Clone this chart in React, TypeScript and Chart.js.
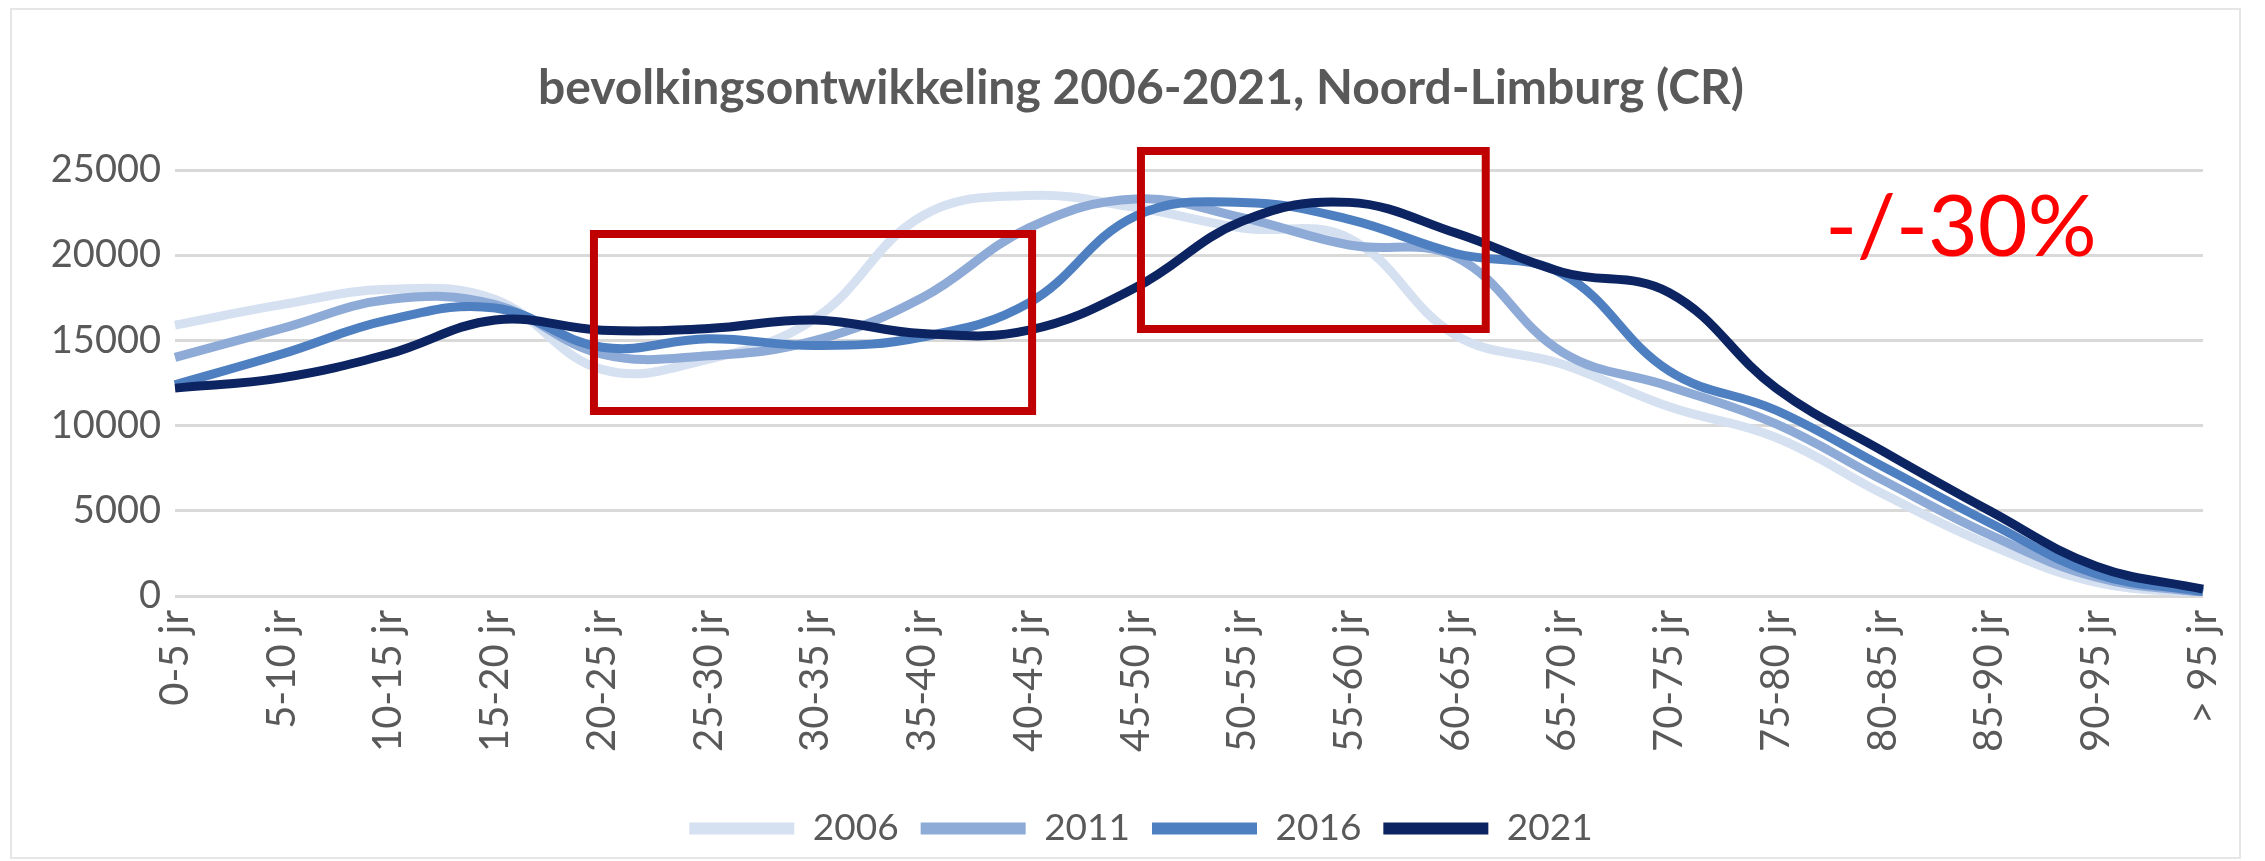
import React, { useEffect, useRef } from "react";
import { Chart, registerables } from "chart.js";

Chart.register(...registerables);

// ---- data ----
const categories = [
  "0-5 jr", "5-10 jr", "10-15 jr", "15-20 jr", "20-25 jr", "25-30 jr", "30-35 jr",
  "35-40 jr", "40-45 jr", "45-50 jr", "50-55 jr", "55-60 jr", "60-65 jr", "65-70 jr",
  "70-75 jr", "75-80 jr", "80-85 jr", "85-90 jr", "90-95 jr", "> 95 jr",
];
const seriesNames = ["2006", "2011", "2016", "2021"];
const values2006 = [15900, 17100, 18000, 17400, 13300, 13900, 16300, 22300, 23500, 22800, 21600, 21000, 15300, 13600, 11100, 9300, 6000, 3000, 800, 150];
const values2011 = [14000, 15700, 17400, 17100, 14200, 14100, 15000, 17500, 21600, 23300, 22200, 20600, 19900, 14300, 12300, 10100, 6800, 3600, 1100, 200];
const values2016 = [12400, 14200, 16200, 16900, 14600, 15100, 14700, 15200, 17200, 22300, 23100, 22100, 20100, 18900, 13200, 10900, 7600, 4300, 1300, 250];
const values2021 = [12200, 12800, 14200, 16200, 15600, 15700, 16200, 15400, 15600, 18100, 22000, 23100, 21300, 19000, 17800, 12200, 8500, 5000, 1750, 400];
const yTickValues = [0, 5000, 10000, 15000, 20000, 25000];
const chartTitle = "bevolkingsontwikkeling 2006-2021, Noord-Limburg (CR)";
const calloutText = "-/-30%";
// highlighted ranges, in category index / value units
const highlightCategoryRanges = [[3.925, 8.03], [9.05, 12.28]];
const highlightValueRanges = [[10857, 21244], [15669, 26115]];
const calloutAnchor = [15.46, 19950];

const seriesValues = [values2006, values2011, values2016, values2021];
const seriesColors = ["#d5e0f1", "#8eaad6", "#4e7fc0", "#0c2461"];

const FONT = "Lato, 'Open Sans', sans-serif";

export default function App() {
  const canvasRef = useRef<HTMLCanvasElement | null>(null);

  useEffect(() => {
    document.body.style.margin = "0";
    document.body.style.overflow = "hidden";
    const canvas = canvasRef.current;
    if (!canvas) return;

    const framePlugin = {
      id: "frame",
      beforeDraw(chart: any) {
        const ctx = chart.ctx;
        ctx.save();
        ctx.fillStyle = "#ffffff";
        ctx.fillRect(0, 0, chart.width, chart.height);
        ctx.strokeStyle = "#e6e6e6";
        ctx.lineWidth = 2;
        ctx.strokeRect(11, 9, 2229, 849);
        ctx.restore();
      },
    };

    const highlightPlugin = {
      id: "highlights",
      afterDraw(chart: any) {
        const ctx = chart.ctx;
        const xs = chart.scales.x;
        const ys = chart.scales.y;
        ctx.save();
        ctx.strokeStyle = "#c00000";
        ctx.lineWidth = 8;
        highlightCategoryRanges.forEach((cr, i) => {
          const vr = highlightValueRanges[i];
          const x0 = xs.getPixelForValue(cr[0]);
          const x1 = xs.getPixelForValue(cr[1]);
          const y0 = ys.getPixelForValue(vr[0]);
          const y1 = ys.getPixelForValue(vr[1]);
          ctx.strokeRect(x0, y1, x1 - x0, y0 - y1);
        });
        ctx.fillStyle = "#ff0000";
        ctx.font = `86px ${FONT}`;
        ctx.textAlign = "left";
        ctx.textBaseline = "alphabetic";
        ctx.fillText(calloutText, xs.getPixelForValue(calloutAnchor[0]), ys.getPixelForValue(calloutAnchor[1]));
        ctx.restore();
      },
    };

    const chart = new Chart(canvas, {
      type: "line",
      data: {
        labels: categories,
        datasets: seriesNames.map((name, i) => ({
          label: name,
          data: seriesValues[i],
          borderColor: seriesColors[i],
          backgroundColor: seriesColors[i],
          borderWidth: 9,
          pointRadius: 0,
          pointHoverRadius: 0,
          tension: 0.4,
          fill: false,
          order: seriesNames.length - i,
        })),
      },
      options: {
        responsive: false,
        animation: false,
        layout: { padding: { left: 17, right: 0, top: 0, bottom: 4 } },
        plugins: {
          title: {
            display: true,
            text: chartTitle,
            color: "#595959",
            font: { family: FONT, size: 48, weight: "bold", lineHeight: 1.2 },
            padding: { top: 60, bottom: 52.4 },
          },
          legend: {
            position: "bottom",
            labels: {
              color: "#595959",
              font: { family: FONT, size: 37 },
              boxWidth: 105,
              boxHeight: 12,
              padding: 22,
              sort: (a: any, b: any) => a.datasetIndex - b.datasetIndex,
              generateLabels: (ch: any) =>
                (Chart.defaults.plugins.legend.labels.generateLabels as any)(ch).map((l: any) => ({
                  ...l,
                  lineWidth: 0,
                  fillStyle: l.strokeStyle,
                })),
            },
          },
          tooltip: { enabled: false },
        },
        scales: {
          x: {
            type: "category",
            offset: false,
            grid: { display: false, drawTicks: false },
            border: { display: false },
            ticks: {
              color: "#595959",
              font: { family: FONT, size: 40 },
              minRotation: 90,
              maxRotation: 90,
              autoSkip: false,
              padding: 14,
            },
            afterFit: (s: any) => {
              s.height = 192;
            },
          },
          y: {
            min: yTickValues[0],
            max: yTickValues[yTickValues.length - 1],
            grid: { color: "#d9d9d9", lineWidth: 3, drawTicks: false },
            border: { display: false },
            afterBuildTicks: (s: any) => {
              s.ticks = yTickValues.map((v) => ({ value: v }));
            },
            ticks: {
              color: "#595959",
              font: { family: FONT, size: 38 },
              padding: 14,
              callback: (v: any) => String(v),
            },
            afterFit: (s: any) => {
              s.width = 158;
            },
          },
          yRightSpacer: {
            type: "linear",
            position: "right",
            display: true,
            grid: { display: false, drawTicks: false },
            border: { display: false },
            ticks: { display: false },
            afterFit: (s: any) => {
              s.width = 62;
            },
          },
        },
      },
      plugins: [framePlugin, highlightPlugin],
    } as any);

    return () => chart.destroy();
  }, []);

  return <canvas ref={canvasRef} width={2265} height={861} style={{ display: "block" }} />;
}
